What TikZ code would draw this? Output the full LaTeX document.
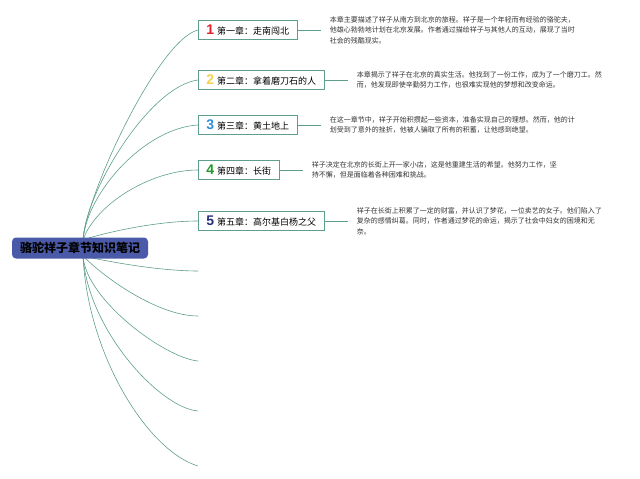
\documentclass[tikz,border=0pt]{standalone}
\usepackage{fontspec}
\setmainfont{Noto Sans CJK SC}
\newfontfamily\numfont{Liberation Sans}
\usepackage{xcolor}
\usetikzlibrary{positioning}

\definecolor{branch}{HTML}{5E9E8E}
\definecolor{rootblue}{HTML}{4A5AA8}
\definecolor{nred}{HTML}{E0202A}
\definecolor{nyellow}{HTML}{F6D04D}
\definecolor{nblue}{HTML}{2D8FDB}
\definecolor{ngreen}{HTML}{1E9A28}
\definecolor{nnavy}{HTML}{27307A}
\newcommand\chnum[2]{{\numfont\bfseries\fontsize{14}{14}\selectfont\color{#1}#2}\hspace{3pt}}

\begin{document}
\begin{tikzpicture}[x=1pt,y=-1pt]
        \tikzset{chapter/.style={draw=branch,line width=0.8pt,minimum height=19pt,
                inner xsep=8pt,inner ysep=0pt,anchor=west,font=\fontsize{9}{9}\selectfont},
            note/.style={right=32pt of #1,inner sep=0pt,align=left,text=black!80,
                font=\fontsize{7}{10.5}\selectfont},
            stem/.style={draw=branch,line width=0.6pt},
            blank/.style={inner sep=0pt,minimum size=0pt,anchor=west}}
        \useasboundingbox (0,0) rectangle (640,479);
        \coordinate (up) at (83,240);
        \coordinate (down) at (83,256);
        \node[chapter] (c1) at (198,30) {\chnum{nred}{1}第一章：走南闯北};
        \node[chapter] (c2) at (198,80) {\chnum{nyellow}{2}第二章：拿着磨刀石的人};
        \node[chapter] (c3) at (198,125) {\chnum{nblue}{3}第三章：黄土地上};
        \node[chapter] (c4) at (198,170) {\chnum{ngreen}{4}第四章：长街};
        \node[chapter] (c5) at (198,221) {\chnum{nnavy}{5}第五章：高尔基白杨之父};
        \foreach \y [count=\i from 6] in {271,316,361,411,466}
            \node[blank] (c\i) at (198,\y) {};
        \node[note=c1] (d1) {本章主要描述了祥子从南方到北京的旅程。祥子是一个年轻而有经验的骆驼夫，\\
            他雄心勃勃地计划在北京发展。作者通过描绘祥子与其他人的互动，展现了当时\\社会的残酷现实。};
        \node[note=c2] (d2) {本章揭示了祥子在北京的真实生活。他找到了一份工作，成为了一个磨刀工。然\\
            而，他发现即使辛勤努力工作，也很难实现他的梦想和改变命运。};
        \node[note=c3] (d3) {在这一章节中，祥子开始积攒起一些资本，准备实现自己的理想。然而，他的计\\
            划受到了意外的挫折，他被人骗取了所有的积蓄，让他感到绝望。};
        \node[note=c4] (d4) {祥子决定在北京的长街上开一家小店，这是他重建生活的希望。他努力工作，坚\\
            持不懈，但是面临着各种困难和挑战。};
        \node[note=c5] (d5) {祥子在长街上积累了一定的财富，并认识了梦花，一位卖艺的女子。他们陷入了\\
            复杂的感情纠葛。同时，作者通过梦花的命运，揭示了社会中妇女的困境和无\\奈。};
        % branches
        \foreach \i/\h/\a/\b/\c/\d in {1/up/3/-45/-40/10, 2/up/3/-50/-48/6, 3/up/4/-48/-53/3,
                4/up/12/-35/-48/0, 5/up/10/-4/-48/0, 6/down/27/6/-38/0, 7/down/25/25/-38/0,
                8/down/3/44/-33/-3, 9/down/5/74/-38/-3, 10/down/5/100/-50/-15}
            \draw[stem] (\h) .. controls +(\a,\b) and +(\c,\d) .. (c\i.west);
        \foreach \i in {1,...,5}
            \draw[stem,shorten >=9pt] (c\i) -- (d\i);
        \node[fill=rootblue,rounded corners=4pt,minimum width=136pt,minimum height=21pt,
            inner sep=0pt,font=\fontsize{12}{12}\selectfont\bfseries] (root) at (80,248) {骆驼祥子章节知识笔记};
\end{tikzpicture}
\end{document}
